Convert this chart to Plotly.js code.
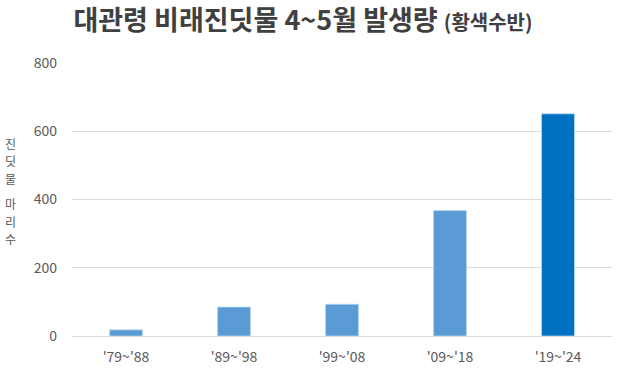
<!DOCTYPE html>
<html>
<head>
<meta charset="utf-8">
<script src="https://cdn.plot.ly/plotly-3.0.1.min.js"></script>
<style>html,body{margin:0;padding:0;background:#fff;}#chart{width:621px;height:375px;}</style>
</head>
<body>
<div id="chart"></div>
<script>
const categories = ["'79~'88", "'89~'98", "'99~'08", "'09~'18", "'19~'24"];
const counts = [18, 85, 93, 368, 651];
const barColors = ["#5B9BD5", "#5B9BD5", "#5B9BD5", "#5B9BD5", "#0070C0"];
const yTicks = [0, 200, 400, 600, 800];
const yTitleChars = ['진', '딧', '물', '마', '리', '수'];

const FONT = "'Noto Sans CJK KR', 'Noto Sans', sans-serif";

const trace = {
  type: 'bar',
  x: categories,
  y: counts,
  marker: { color: barColors, line: { color: 'rgba(190,220,245,0.7)', width: 1 } },
  hoverinfo: 'x+y'
};

// vertical stacked y-axis title, one glyph per row (gap between words)
const rowPx = [143, 160.5, 178, 204, 221.5, 239];
const annotations = yTitleChars.map((ch, i) => ({
  text: ch,
  xref: 'paper', yref: 'paper',
  x: (10 - 72) / 540, y: (336 - rowPx[i]) / 273,
  xanchor: 'center', yanchor: 'middle',
  borderpad: 0,
  showarrow: false,
  font: { family: FONT, size: 12, color: '#595959' }
}));

const layout = {
  width: 621,
  height: 375,
  margin: { l: 72, r: 9, t: 63, b: 39, pad: 0 },
  paper_bgcolor: '#ffffff',
  plot_bgcolor: '#ffffff',
  bargap: 0.695,
  showlegend: false,
  font: { family: FONT, color: '#595959', size: 14 },
  title: {
    text: '대관령 비래진딧물 4~5월 발생량 <span style="font-size:20px">(황색수반)</span>',
    font: { family: FONT, size: 27, color: '#404040', weight: 'bold' },
    x: 303 / 621, xref: 'container', xanchor: 'center',
    y: 1 - 21 / 375, yref: 'container', yanchor: 'middle'
  },
  xaxis: {
    type: 'category',
    showgrid: false,
    showline: true,
    linecolor: '#D9D9D9',
    linewidth: 1,
    ticks: '',
    tickfont: { family: FONT, size: 14, color: '#595959' },
    ticklabelstandoff: 8,
    fixedrange: true
  },
  yaxis: {
    range: [0, 800],
    tickvals: yTicks,
    ticktext: yTicks.map(String),
    showgrid: true,
    gridcolor: '#D9D9D9',
    gridwidth: 1,
    zeroline: false,
    showline: false,
    ticks: '',
    tickfont: { family: FONT, size: 14, color: '#595959' },
    ticklabelstandoff: 14,
    fixedrange: true
  },
  annotations: annotations
};

Plotly.newPlot('chart', [trace], layout, { displayModeBar: false, staticPlot: true });
</script>
</body>
</html>
